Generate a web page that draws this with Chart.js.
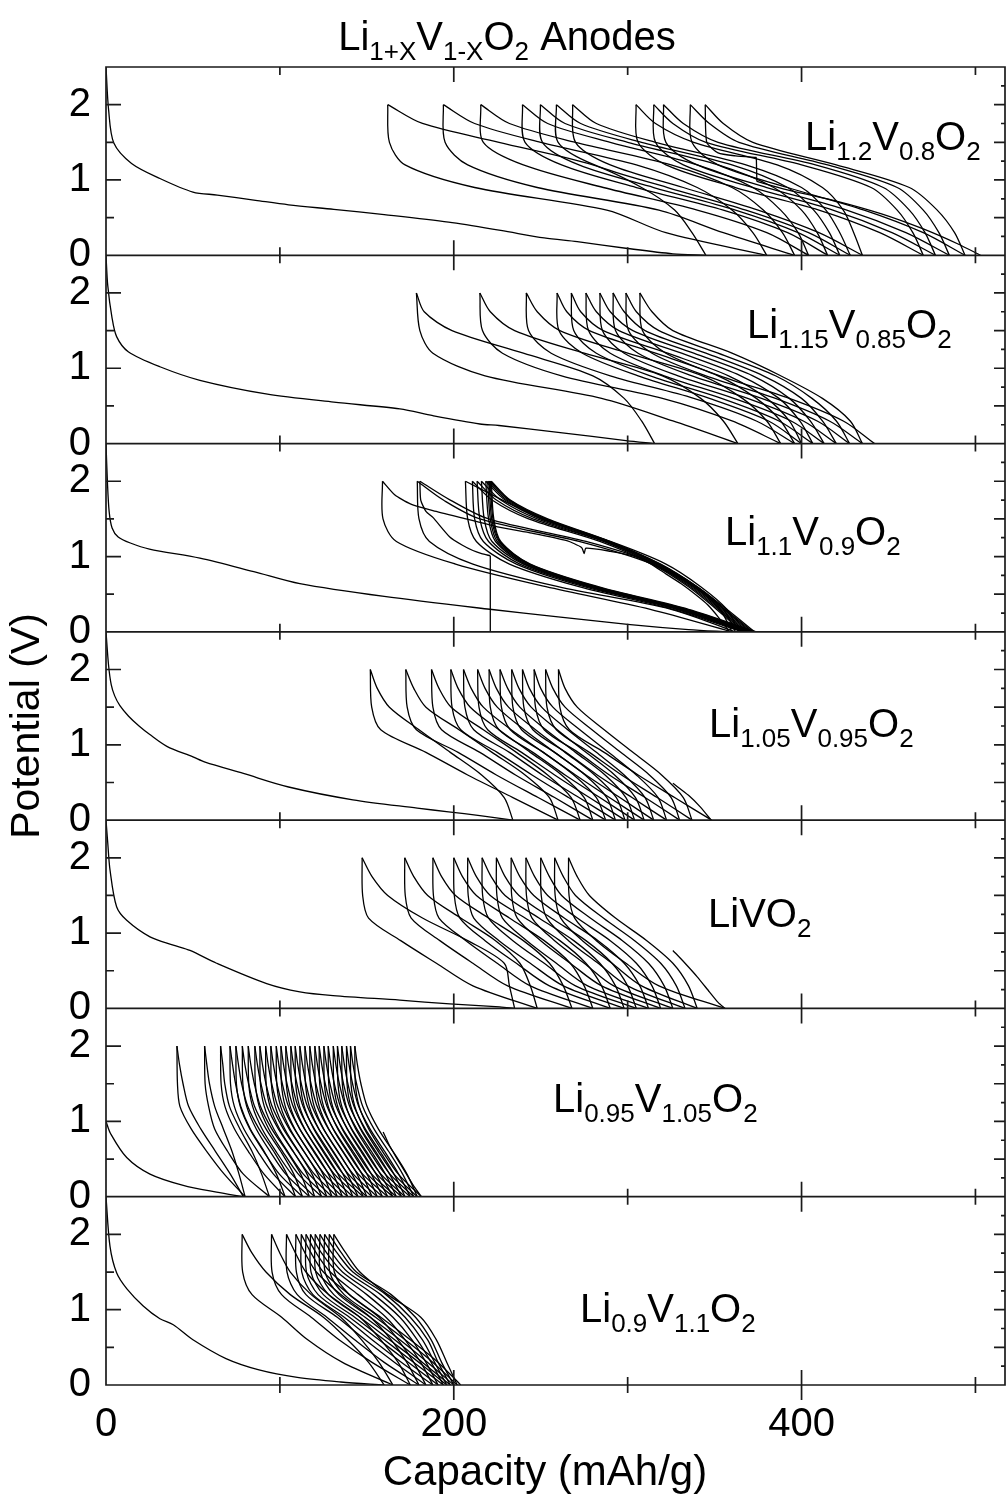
<!DOCTYPE html>
<html>
<head>
<meta charset="utf-8">
<script src="https://cdn.jsdelivr.net/npm/chart.js@4.4.0/dist/chart.umd.min.js"></script>
<style>
html, body { margin: 0; padding: 0; background: #fff; }
#wrap { width: 1006px; height: 1494px; }
</style>
</head>
<body>
<div id="wrap"><canvas id="chart" width="1006" height="1494"></canvas></div>
<script>
const disV = [2.0, 1.5, 1.2, 0.9, 0.6, 0.3, 0];
const chgV = [0, 0.3, 0.6, 0.9, 1.2, 1.5, 1.75, 2.0];
const xTickValues = [0, 100, 200, 300, 400, 500];

// ---- Li1.2V0.8O2
const li12First = [[0,2.5],[1.5,1.93],[4.5,1.49],[14.7,1.22],[31,1.02],[50,0.84],[64,0.8],[86,0.73],[105,0.67],[131,0.61],[160,0.54],[197,0.44],[227,0.33],[252,0.23],[271,0.18],[300,0.09],[326,0.02],[345,0]];
const li12Dis = [
  [162, 163, 172, 212, 288, 322, 380],
  [194, 195, 208, 248, 318, 355, 396],
  [215.5, 217, 240, 286, 340, 380, 404],
  [239.5, 241, 262, 305, 355, 392, 415],
  [249.8, 251, 272, 315, 362, 398, 422],
  [259, 260, 281, 323, 368, 404, 428],
  [268.3, 270, 290, 332, 375, 410, 435],
  [304.8, 306, 322, 362, 410, 445, 470],
  [315, 316, 332, 372, 418, 452, 477],
  [320.6, 322, 340, 380, 426, 460, 485],
  [336, 337, 352, 392, 436, 470, 494]
];
const li12Chg = [
  [345, 337, 327, 308, 280, 226, 182, 162],
  [380, 372, 360, 340, 305, 250, 212, 194],
  [396, 389, 378, 360, 325, 270, 232, 215.5],
  [404, 398, 388, 372, 340, 290, 254, 239.5],
  [415, 409, 400, 384, 352, 300, 264, 249.8],
  [422, 416, 407, 392, 360, 308, 273, 259],
  [428, 422, 414, 400, 368, 316, 282, 268.3],
  [435, 430, 424, 412, 386, 338, 316, 304.8],
  [470, 464, 455, 440, 400, 345, 326, 315],
  [477, 471, 462, 447, 408, 352, 332, 320.6],
  [485, 479, 470, 455, 415, 364, 347, 336],
  [494, 488, 478, 462, 420, 372, 355, 344.6]
];
const li12Extra = [
  [[344.6,2.0],[345.5,1.5],[352,1.36],[362,1.32],[374,1.3]],
  [[374,1.3],[374.3,0.98]],
  [[374.3,0.98],[390,0.88],[420,0.72],[446,0.55],[470,0.35],[490,0.15],[503,0]]
];

// ---- Li1.15V0.85O2
const li115First = [[0,2.5],[1,2.1],[3.4,1.68],[6.1,1.42],[12.8,1.22],[31,1.02],[54,0.84],[92,0.66],[131,0.55],[169,0.46],[188,0.37],[215,0.26],[226,0.24],[260,0.15],[299,0.04],[315.5,0]];
const li115Dis = [
  [178.5, 180.5, 188, 218, 285, 326, 363.4],
  [215, 216.5, 228, 262, 320, 360, 388],
  [241.7, 243, 256, 290, 338, 374, 396],
  [259.4, 260.5, 274, 306, 347, 381, 400],
  [267.6, 269, 282, 313, 354, 387, 406.5],
  [276, 277.5, 290, 321, 361, 394, 413],
  [284, 285.5, 298, 329, 369, 401, 420],
  [291.6, 293, 306, 337, 377, 409, 427.6],
  [299, 300.5, 314, 345, 385, 416, 435],
  [307, 308.5, 322, 353, 393, 424, 442]
];
const li115Chg = [
  [315.5, 308, 298, 280, 240, 199, 183, 178.5],
  [363.4, 355, 342, 320, 275, 235, 221, 215],
  [388, 380, 366, 343, 300, 261, 248, 241.7],
  [396, 388, 374, 352, 316, 278, 265, 259.4],
  [400, 393, 380, 358, 323, 286, 273, 267.6],
  [406.5, 399, 387, 365, 331, 295, 282, 276],
  [413, 405, 393, 372, 338, 303, 290, 284],
  [420, 412, 400, 378, 345, 310, 298, 291.6],
  [427.6, 420, 406, 385, 352, 318, 305, 299],
  [435, 428, 412, 388, 360, 326, 314, 307]
];
const li115Extra = [];

// ---- Li1.1V0.9O2
const li11First = [[0,2.5],[0.8,2.0],[1.8,1.6],[3.5,1.38],[7,1.26],[14,1.18],[25,1.1],[54,0.98],[85,0.8],[111.5,0.64],[160,0.47],[220.7,0.3],[260,0.2],[300,0.1],[335,0.03],[358.6,0]];
const li11Dis = [
  [159, 159.3, 167, 201, 253, 313, 360],
  [179, 180, 186, 211, 260, 325, 362],
  [206.7, 208, 213, 232, 272, 326, 366],
  [210.7, 212, 217, 236, 275, 328, 367],
  [213.4, 215, 220, 238, 277, 329, 368],
  [215.9, 217.5, 222, 240, 278, 330, 369],
  [218.4, 220, 224, 241, 279, 331, 370],
  [219.5, 221, 225, 242, 280, 332, 371],
  [220.3, 221.8, 226, 243, 281, 333, 372],
  [221, 222.5, 226.5, 243.5, 282, 334, 373],
  [221.6, 223, 227, 244, 283, 335, 374]
];
const li11Chg = [
  [360, 353, 338, 314, 272, 215, 194, 179],
  [362, 355, 340, 317, 276, 220, 198, 180.5],
  [364, 357, 342, 322, 290, 250, 228, 206.7],
  [366, 351, 335, 314, 284, 243, 222, 210.7],
  [367, 352, 336, 315, 286, 245.5, 224.5, 213.4],
  [368, 353, 337, 316, 287, 248, 227, 215.9],
  [369, 354, 338, 317, 288, 250.5, 229.5, 218.4],
  [370, 355, 338.5, 317.5, 288.5, 251.5, 230.5, 219.5],
  [371, 355.5, 339, 318, 289, 252, 231.5, 220.3],
  [372, 356, 339.5, 318.5, 289.5, 253, 232, 221],
  [373, 357, 340, 319, 290, 254, 232.5, 221.6]
];
const li11Extra = [
  [[358.6,0],[352,0.2],[346,0.36],[341,0.46],[332,0.62],[322,0.77],[312,0.92],[303,1.01],[290,1.07],[276,1.11],[275,1.04],[273.5,1.12],[265,1.21],[245,1.31],[226,1.39],[207,1.5],[188,1.61],[175,1.7],[166,1.82],[159,2.0]],
  [[180.5,2.0],[181,1.75],[184,1.6],[188,1.52],[197.7,1.26],[205,1.15],[211,1.08],[216,1.04],[221,1.01]],
  [[221,1.01],[221,0]]
];

// ---- Li1.05V0.95O2
const li105First = [[0,2.5],[1.5,2.05],[3,1.8],[5,1.65],[8,1.52],[13,1.38],[19,1.25],[25,1.14],[35,0.98],[50,0.84],[57,0.77],[79,0.62],[105,0.44],[142,0.27],[179,0.16],[197,0.11],[215,0.06],[234,0]];
const li105Dis = [
  [152, 152.8, 158, 184, 208, 234, 260],
  [172.4, 173.2, 178.5, 202.5, 224.5, 248.5, 272.7],
  [187.2, 188, 193, 215, 235.5, 258, 280],
  [198.3, 199, 204, 225, 245, 266, 287.4],
  [205.6, 206.4, 211.5, 232, 251, 272, 293],
  [213.7, 214.5, 219.5, 239, 258, 278, 298.5],
  [220.3, 221, 226, 245.5, 264, 284, 304],
  [226.6, 227.4, 232.5, 251.5, 270, 289.5, 309.5],
  [233.3, 234, 239, 258, 276, 295.5, 315],
  [239.5, 240.3, 245.5, 264.5, 282.5, 302.5, 322.4],
  [246.2, 247, 252, 271.5, 289.5, 310, 329.9],
  [252.8, 253.6, 259, 278, 296.5, 317, 337],
  [260.2, 261, 266.5, 286.5, 306, 327, 348.3]
];
const li105Chg = [
  [234, 229, 216, 198, 180, 163, 156, 152],
  [260, 255, 241, 222, 203, 184, 177, 172.4],
  [272.7, 267.5, 254, 236, 217, 198.5, 191.5, 187.2],
  [280, 275, 262, 244, 226, 209.5, 202.5, 198.3],
  [287.4, 282, 269, 251.5, 233, 217, 210, 205.6],
  [293, 288, 275.5, 258, 240.5, 225, 218, 213.7],
  [298.5, 293.5, 281, 264, 247, 231.5, 224.5, 220.3],
  [304, 299, 287, 270, 253, 238, 231, 226.6],
  [309.5, 304.5, 292.5, 276, 259.5, 244.5, 237.5, 233.3],
  [315, 310, 298, 282, 265.5, 250.5, 243.5, 239.5],
  [322.4, 317.5, 305, 289, 272.5, 257, 250, 246.2],
  [329.9, 325, 312.5, 296, 279.5, 264, 257, 252.8],
  [337, 332, 319.5, 303, 286.5, 271, 264, 260.2]
];
const li105Extra = [
  [[326,0.49],[335,0.33],[342,0.17],[348,0]]
];

// ---- LiVO2
const li10First = [[0,2.5],[1,2.2],[2.3,1.84],[6.1,1.35],[11.9,1.17],[25.3,0.95],[38.7,0.84],[48.3,0.77],[63.6,0.6],[92.4,0.33],[111.5,0.22],[130.6,0.17],[169,0.11],[197.7,0.06],[226.4,0.02],[235,0]];
const li10Dis = [
  [147.3, 147.6, 151, 169.5, 190, 211, 248],
  [171.8, 172.1, 175.5, 192, 211, 231, 268],
  [188, 188.3, 191.5, 207, 225, 244, 280],
  [200, 200.3, 203.5, 218, 236, 255, 290],
  [208, 208.3, 211.5, 226, 244, 263, 298],
  [216.3, 216.6, 220, 234, 252, 270, 305],
  [224.5, 224.8, 228, 242, 259, 277, 312],
  [233, 233.3, 236.5, 250, 267, 285, 319],
  [241.5, 241.8, 245, 258, 275, 292, 326],
  [250, 250.3, 253.5, 266, 283, 300, 333],
  [258, 258.3, 261.5, 274, 291, 308, 340],
  [266, 266.3, 269.5, 282, 299, 318, 356]
];
const li10Chg = [
  [235, 232, 229, 208, 182, 162, 153, 147.3],
  [248, 244, 238, 224, 204, 185, 177, 171.8],
  [268, 263, 255, 240, 220, 201, 193, 188],
  [280, 275, 267, 252, 232, 213, 205, 200],
  [290, 285, 276, 261, 241, 221, 213, 208],
  [298, 293, 284, 269, 249, 229.5, 221.5, 216.3],
  [305, 300, 291, 276, 256, 237.5, 229.5, 224.5],
  [312, 307, 298, 283, 263.5, 246, 238, 233],
  [319, 314, 305, 290, 271, 254, 246.5, 241.5],
  [326, 321, 312, 297, 278.5, 262, 255, 250],
  [333, 328, 319, 304, 286, 270, 263, 258],
  [340, 335, 326, 311, 293, 278, 271, 266]
];
const li10Extra = [
  [[326,0.77],[333,0.6],[340,0.42],[347,0.22],[352,0.08],[356,0]]
];

// ---- Li0.95V1.05O2
const li095First = [[0,1.0],[2.6,0.84],[11.9,0.52],[25.3,0.3],[44.4,0.15],[63.6,0.06],[79,0]];
const li095Dis = [
  [40.8, 41.1, 42.5, 49, 58, 68, 80],
  [56.7, 57, 59, 62.5, 70, 79, 94],
  [65.9, 66.2, 68.4, 73.9, 81.9, 90.9, 103],
  [71.3, 71.6, 73.8, 79.3, 87.3, 96.3, 109],
  [74.7, 75, 77.2, 82.7, 90.7, 99.7, 113],
  [78.4, 78.7, 80.9, 86.4, 94.4, 103.4, 117],
  [81.8, 82.1, 84.3, 89.8, 97.8, 106.8, 120],
  [85.6, 85.9, 88.1, 93.6, 101.6, 110.6, 124],
  [88.5, 88.8, 91, 96.5, 104.5, 113.5, 127],
  [91.8, 92.1, 94.3, 99.8, 107.8, 116.8, 130],
  [94.8, 95.1, 97.3, 102.8, 110.8, 119.8, 133],
  [97.9, 98.2, 100.4, 105.9, 113.9, 122.9, 136],
  [100.6, 100.9, 103.1, 108.6, 116.6, 125.6, 139],
  [103.4, 103.7, 105.9, 111.4, 119.4, 128.4, 142],
  [106.3, 106.6, 108.8, 114.3, 122.3, 131.3, 145],
  [108.8, 109.1, 111.3, 116.8, 124.8, 133.8, 148],
  [111.5, 111.8, 114, 119.5, 127.5, 136.5, 150],
  [114.4, 114.7, 116.9, 122.4, 130.4, 139.4, 153],
  [117.2, 117.5, 119.7, 125.2, 133.2, 142.2, 156],
  [120.1, 120.4, 122.6, 128.1, 136.1, 145.1, 159],
  [122.6, 122.9, 125.1, 130.6, 138.6, 147.6, 162],
  [125.3, 125.6, 127.8, 133.3, 141.3, 150.3, 165],
  [127.8, 128.1, 130.3, 135.8, 143.8, 152.8, 167],
  [130.7, 131, 133.2, 138.7, 146.7, 155.7, 170],
  [133.1, 133.4, 135.6, 141.1, 149.1, 158.1, 172],
  [135.6, 135.9, 138.1, 143.6, 151.6, 160.6, 175],
  [138.3, 138.6, 140.8, 146.3, 154.3, 163.3, 177],
  [140.6, 140.9, 143.1, 148.6, 156.6, 165.6, 179],
  [143.1, 143.4, 145.6, 151.1, 159.1, 168.1, 181.4]
];
const li095Chg = [
  [79, 71.5, 63, 54.5, 47.5, 44.3, 42.3, 40.8],
  [80, 76.5, 72.5, 67.5, 62.5, 59.5, 58, 56.7],
  [94, 89.5, 84, 77, 71, 68.3, 67.2, 65.9],
  [103, 98, 91, 83, 77.5, 74.5, 72.8, 71.3],
  [109, 104, 96.5, 88, 81.5, 78, 76.2, 74.7],
  [113, 108, 100.5, 92, 85.4, 82, 79.9, 78.4],
  [117, 112, 104, 95.3, 88.8, 85.3, 83.3, 81.8],
  [120, 115.6, 107.6, 99.1, 92.6, 89.1, 87.1, 85.6],
  [124, 118.5, 110.5, 102, 95.5, 92, 90, 88.5],
  [127, 121.8, 113.8, 105.3, 98.8, 95.3, 93.3, 91.8],
  [130, 124.8, 116.8, 108.3, 101.8, 98.3, 96.3, 94.8],
  [133, 127.9, 119.9, 111.4, 104.9, 101.4, 99.4, 97.9],
  [136, 130.6, 122.6, 114.1, 107.6, 104.1, 102.1, 100.6],
  [139, 133.4, 125.4, 116.9, 110.4, 106.9, 104.9, 103.4],
  [142, 136.3, 128.3, 119.8, 113.3, 109.8, 107.8, 106.3],
  [145, 138.8, 130.8, 122.3, 115.8, 112.3, 110.3, 108.8],
  [148, 141.5, 133.5, 125, 118.5, 115, 113, 111.5],
  [150, 144.4, 136.4, 127.9, 121.4, 117.9, 115.9, 114.4],
  [153, 147.2, 139.2, 130.7, 124.2, 120.7, 118.7, 117.2],
  [156, 150.1, 142.1, 133.6, 127.1, 123.6, 121.6, 120.1],
  [159, 152.6, 144.6, 136.1, 129.6, 126.1, 124.1, 122.6],
  [162, 155.3, 147.3, 138.8, 132.3, 128.8, 126.8, 125.3],
  [165, 157.8, 149.8, 141.3, 134.8, 131.3, 129.3, 127.8],
  [167, 160.7, 152.7, 144.2, 137.7, 134.2, 132.2, 130.7],
  [170, 163.1, 155.1, 146.6, 140.1, 136.6, 134.6, 133.1],
  [172, 165.6, 157.6, 149.1, 142.6, 139.1, 137.1, 135.6],
  [175, 168.3, 160.3, 151.8, 145.3, 141.8, 139.8, 138.3],
  [177, 170.6, 162.6, 154.1, 147.6, 144.1, 142.1, 140.6],
  [179, 173.1, 165.1, 156.6, 150.1, 146.6, 144.6, 143.1]
];
const li095Extra = [
  [[159.4,0.86],[163,0.68],[167,0.52],[172,0.33],[177,0.14],[181.4,0]]
];

// ---- Li0.9V1.1O2
const li09First = [[0,2.5],[2.3,1.84],[6.1,1.49],[11.9,1.28],[21.4,1.05],[31,0.88],[38.7,0.8],[50,0.6],[69,0.35],[88,0.2],[110,0.1],[135,0.04],[160,0]];
const li09Dis = [
  [78.3, 78.6, 84, 101, 116, 136, 165],
  [95.2, 95.5, 101, 118, 134, 153, 175],
  [103.8, 104.1, 110, 127, 143, 160, 180],
  [109.2, 109.5, 115, 133, 149, 166, 184],
  [112.3, 112.6, 119, 137, 153, 170, 188],
  [115, 115.3, 122, 140, 157, 174, 191],
  [117.6, 117.9, 125, 143, 160, 177, 194],
  [120.3, 120.6, 128, 146, 163, 180, 196],
  [123, 123.3, 131, 149, 166, 182, 198],
  [125.7, 126, 134, 152, 169, 185, 200],
  [128.4, 128.7, 137, 155, 172, 188, 202],
  [131, 131.3, 140, 158, 175, 191, 204]
];
const li09Chg = [
  [160, 151, 139, 125, 106, 92, 84, 78.3],
  [165, 157, 147, 135, 118, 106, 100, 95.2],
  [175, 168, 158, 146, 128, 115, 109, 103.8],
  [180, 173, 164, 152, 135, 121, 114.5, 109.2],
  [184, 177, 168, 157, 140, 125, 118, 112.3],
  [188, 181, 172, 161, 145, 129, 121, 115],
  [191, 184, 176, 165, 150, 133, 124, 117.6],
  [194, 187, 179, 169, 154, 136, 127, 120.3],
  [196, 189, 182, 172, 158, 139, 130, 123],
  [198, 191, 185, 175, 161, 142, 133, 125.7],
  [200, 193, 187, 178, 164, 144, 135.5, 128.4],
  [202, 196, 190, 181, 162, 146, 138, 131]
];
const li09Extra = [];

const titleParts = [['Li',0],['1+X',1],['V',0],['1-X',1],['O',0],['2',1],[' Anodes',0]];
const xTitle = 'Capacity (mAh/g)';

const FONT = "'Liberation Sans', Arial, Helvetica, sans-serif";

const panels = [
  {id: 'p1', first: li12First, dis: li12Dis, chg: li12Chg, extra: li12Extra, label: [['Li',0],['1.2',1],['V',0],['0.8',1],['O',0],['2',1]], lx: 805, ly: 150},
  {id: 'p2', first: li115First, dis: li115Dis, chg: li115Chg, extra: li115Extra, label: [['Li',0],['1.15',1],['V',0],['0.85',1],['O',0],['2',1]], lx: 747, ly: 338},
  {id: 'p3', first: li11First, dis: li11Dis, chg: li11Chg, extra: li11Extra, label: [['Li',0],['1.1',1],['V',0],['0.9',1],['O',0],['2',1]], lx: 725, ly: 545},
  {id: 'p4', first: li105First, dis: li105Dis, chg: li105Chg, extra: li105Extra, label: [['Li',0],['1.05',1],['V',0],['0.95',1],['O',0],['2',1]], lx: 709, ly: 737},
  {id: 'p5', first: li10First, dis: li10Dis, chg: li10Chg, extra: li10Extra, label: [['LiVO',0],['2',1]], lx: 708, ly: 927},
  {id: 'p6', first: li095First, dis: li095Dis, chg: li095Chg, extra: li095Extra, label: [['Li',0],['0.95',1],['V',0],['1.05',1],['O',0],['2',1]], lx: 553, ly: 1112},
  {id: 'p7', first: li09First, dis: li09Dis, chg: li09Chg, extra: li09Extra, label: [['Li',0],['0.9',1],['V',0],['1.1',1],['O',0],['2',1]], lx: 580, ly: 1322}
];

const datasets = [];
function addLine(axis, pts, tension) {
  datasets.push({
    data: pts, yAxisID: axis, xAxisID: 'x',
    borderColor: '#000', borderWidth: 1.3, pointRadius: 0,
    tension: tension, fill: false
  });
}
panels.forEach(p => {
  addLine(p.id, p.first.map(d => ({x: d[0], y: d[1]})), 0.3);
  p.dis.forEach(xs => addLine(p.id, xs.map((x, i) => ({x: x, y: disV[i]})), 0.3));
  p.chg.forEach(xs => addLine(p.id, xs.map((x, i) => ({x: x, y: chgV[i]})), 0.3));
  p.extra.forEach(c => addLine(p.id, c.map(d => ({x: d[0], y: d[1]})), 0.2));
});

const scales = {
  x: {
    type: 'linear', position: 'bottom', min: 0, max: 517,
    afterFit: s => { s.height = 109; },
    grid: {display: false, drawTicks: false}, border: {display: false},
    ticks: {
      stepSize: 100, autoSkip: false, maxRotation: 0, includeBounds: false, padding: 16,
      color: '#000', font: {family: FONT, size: 40},
      callback: v => (v % 200 === 0 ? String(v) : '')
    }
  }
};
panels.slice().reverse().forEach(p => {
  scales[p.id] = {
    type: 'linear', position: 'left', stack: 'panels', stackWeight: 1, min: 0, max: 2.5,
    afterFit: s => { s.width = 106; },
    grid: {display: false, drawTicks: false}, border: {display: false},
    ticks: {
      stepSize: 0.5, autoSkip: false, padding: 15, color: '#000',
      font: {family: FONT, size: 40},
      callback: v => (Number.isInteger(v) ? String(v) : '')
    },
    title: {display: p.id === 'p4', text: 'Potential (V)', color: '#000', font: {family: FONT, size: 41}, padding: {top: 3, bottom: 0}}
  };
});

function drawFormula(ctx, parts, x, y) {
  let cx = x;
  parts.forEach(([t, sub]) => {
    ctx.font = (sub ? 26 : 40) + 'px ' + FONT;
    ctx.fillText(t, cx, sub ? y + 10 : y);
    cx += ctx.measureText(t).width;
  });
  return cx - x;
}

const framePlugin = {
  id: 'frame',
  afterDraw(chart) {
    const ctx = chart.ctx;
    const a = chart.chartArea;
    const xs = chart.scales.x;
    ctx.save();
    ctx.strokeStyle = '#1a1a1a';
    ctx.lineWidth = 1.7;
    ctx.beginPath();
    panels.forEach((p, i) => {
      const ys = chart.scales[p.id];
      [0.5, 1, 1.5, 2].forEach(v => {
        const y = ys.getPixelForValue(v);
        const len = Number.isInteger(v) ? 15 : 8;
        ctx.moveTo(a.left, y); ctx.lineTo(a.left + len, y);
      });
      for (let v = 0.25; v < 2.5; v += 0.25) {
        const y = ys.getPixelForValue(v);
        const len = Math.abs(v * 2 - Math.round(v * 2)) < 1e-6 ? 11 : 4;
        ctx.moveTo(a.right - len, y); ctx.lineTo(a.right, y);
      }
      xTickValues.slice(1).forEach(v => {
        const x = xs.getPixelForValue(v);
        const len = v % 200 === 0 ? 15 : 8;
        ctx.moveTo(x, ys.bottom - len); ctx.lineTo(x, ys.bottom + len);
        if (i === 0) { ctx.moveTo(x, ys.top); ctx.lineTo(x, ys.top + len); }
      });
      ctx.moveTo(a.left, ys.bottom); ctx.lineTo(a.right, ys.bottom);
    });
    ctx.rect(a.left, a.top, a.right - a.left, a.bottom - a.top);
    ctx.stroke();

    ctx.fillStyle = '#000';
    ctx.textBaseline = 'alphabetic';
    ctx.textAlign = 'left';
    panels.forEach(p => drawFormula(ctx, p.label, p.lx, p.ly));
    let w = 0;
    titleParts.forEach(([t, sub]) => { ctx.font = (sub ? 26 : 40) + 'px ' + FONT; w += ctx.measureText(t).width; });
    drawFormula(ctx, titleParts, 507 - w / 2, 50);
    ctx.font = '42px ' + FONT;
    ctx.textAlign = 'center';
    ctx.fillText(xTitle, 545, 1485);
    ctx.restore();
  }
};

new Chart(document.getElementById('chart'), {
  type: 'line',
  data: {datasets: datasets},
  options: {
    responsive: false, animation: false, devicePixelRatio: 1, events: [],
    layout: {padding: {top: 67, right: 1, left: 0, bottom: 0}},
    plugins: {legend: {display: false}, tooltip: {enabled: false}, title: {display: false}},
    scales: scales
  },
  plugins: [framePlugin]
});
</script>
</body>
</html>
